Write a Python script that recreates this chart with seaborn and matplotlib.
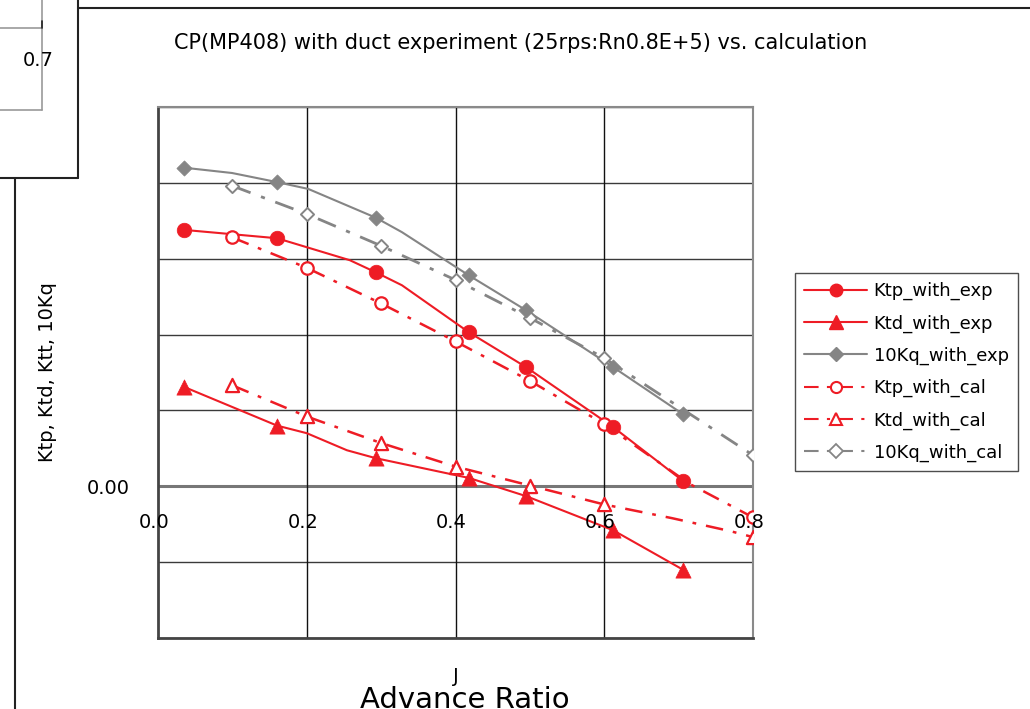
import matplotlib
matplotlib.use("Agg")
import matplotlib.pyplot as plt
import seaborn as sns
from matplotlib.lines import Line2D
import matplotlib.transforms as mtransforms

# ---------------- data ----------------
J_exp = [0.035, 0.160, 0.293, 0.418, 0.495, 0.612, 0.706]
Ktp_exp = [0.338, 0.327, 0.282, 0.203, 0.157, 0.078, 0.007]
Ktd_exp = [0.131, 0.080, 0.037, 0.011, -0.013, -0.058, -0.110]
Kq10_exp = [0.420, 0.401, 0.354, 0.278, 0.232, 0.157, 0.095]

J_cal = [0.1, 0.2, 0.3, 0.4, 0.5, 0.6, 0.8]
Ktp_cal = [0.328, 0.288, 0.241, 0.191, 0.139, 0.082, -0.041]
Ktd_cal = [0.133, 0.092, 0.057, 0.026, 0.001, -0.024, -0.067]
Kq10_cal = [0.396, 0.359, 0.317, 0.272, 0.222, 0.169, 0.041]

# curve vertices of the drawn lines (markers + intermediate bends)
Kq10_exp_line_J = [0.035, 0.0995, 0.160, 0.202, 0.293, 0.328, 0.418, 0.495, 0.612, 0.706]
Kq10_exp_line = [0.420, 0.413, 0.401, 0.392, 0.354, 0.335, 0.278, 0.232, 0.157, 0.095]
Ktp_exp_line_J = [0.035, 0.160, 0.258, 0.293, 0.328, 0.402, 0.418, 0.495, 0.612, 0.706]
Ktp_exp_line = [0.338, 0.327, 0.298, 0.282, 0.265, 0.214, 0.203, 0.157, 0.078, 0.007]
Ktd_exp_line_J = [0.035, 0.160, 0.200, 0.254, 0.293, 0.370, 0.418, 0.495, 0.612, 0.706]
Ktd_exp_line = [0.131, 0.080, 0.070, 0.0475, 0.037, 0.021, 0.011, -0.013, -0.058, -0.110]
Ktp_cal_line_J = [0.1, 0.2, 0.3, 0.4, 0.5, 0.6, 0.715, 0.8]
Ktp_cal_line = [0.328, 0.288, 0.241, 0.191, 0.139, 0.082, 0.003, -0.041]
Ktd_cal_line_J = [0.1, 0.2, 0.3, 0.4, 0.5, 0.6, 0.691, 0.769, 0.8]
Ktd_cal_line = [0.133, 0.092, 0.057, 0.026, 0.001, -0.024, -0.042, -0.059, -0.067]
Kq10_cal_line_J = J_cal
Kq10_cal_line = Kq10_cal

x_ticks = [0.0, 0.2, 0.4, 0.6, 0.8]
x_tick_labels = ["0.0", "0.2", "0.4", "0.6", "0.8"]
y_ticks = [-0.2, -0.1, 0.0, 0.1, 0.2, 0.3, 0.4, 0.5]
y_tick_labels = ["", "", "0.00", "", "", "", "", ""]

series_labels = ["Ktp_with_exp", "Ktd_with_exp", "10Kq_with_exp",
                 "Ktp_with_cal", "Ktd_with_cal", "10Kq_with_cal"]
title_text = "CP(MP408) with duct experiment (25rps:Rn0.8E+5) vs. calculation"

# ---------------- style ----------------
sns.set_style("white")
plt.rcParams["font.family"] = ["DejaVu Sans"]
plt.rcParams["text.color"] = "black"
plt.rcParams["axes.labelcolor"] = "black"
plt.rcParams["xtick.color"] = "black"
plt.rcParams["ytick.color"] = "black"

RED = "#EE1C25"
GRAY = "#858585"
DASHDOT = (7, 4, 1.5, 4)

W, H = 1030, 709
fig = plt.figure(figsize=(W / 100, H / 100), dpi=100)
L, R, T, B = 158, 753, 107, 638
ax = fig.add_axes([L / W, 1 - B / H, (R - L) / W, (B - T) / H])

ax.set_xlim(0, 0.8)
ax.set_ylim(-0.2, 0.5)

# grid
for yv in y_ticks:
    if yv == 0.0:
        ax.axhline(yv, color="#777777", lw=2.2, zorder=1)
    else:
        ax.axhline(yv, color="#3a3a3a", lw=1.0, zorder=1)
for xv in x_ticks[1:-1]:
    ax.axvline(xv, color="#111111", lw=1.0, zorder=1)

for side, col, lw in [("left", "#444444", 2.0), ("bottom", "#444444", 2.0),
                      ("top", "#8a8a8a", 1.5), ("right", "#8a8a8a", 1.5)]:
    ax.spines[side].set_visible(True)
    ax.spines[side].set_color(col)
    ax.spines[side].set_linewidth(lw)

ax.set_yticks(y_ticks)
ax.set_yticklabels(y_tick_labels, fontsize=14)
ax.tick_params(axis="y", direction="in", length=6, width=1.2, color="#333333", pad=20,
               labelcolor="black")
ax.set_xticks(x_ticks)
ax.set_xticklabels([])
ax.tick_params(axis="x", length=0)

# x tick labels sitting below the zero line
off = mtransforms.offset_copy(ax.transData, fig=fig, x=-4, y=-27, units="dots")
for xv, lab in zip(x_ticks, x_tick_labels):
    ax.text(xv, 0.0, lab, transform=off, ha="center", va="top", fontsize=14,
            color="black", zorder=6)

# ---------------- series ----------------
def draw_line(xs, ys, color, lw, dashed):
    sns.lineplot(x=xs, y=ys, sort=False, estimator=None, color=color, lw=lw, ax=ax,
                 legend=False, zorder=3)
    ln = ax.lines[-1]
    if dashed:
        ln.set_dashes(DASHDOT)

draw_line(Kq10_cal_line_J, Kq10_cal_line, GRAY, 2.0, True)
draw_line(Ktp_cal_line_J, Ktp_cal_line, RED, 1.8, True)
draw_line(Ktd_cal_line_J, Ktd_cal_line, RED, 1.8, True)
draw_line(Kq10_exp_line_J, Kq10_exp_line, GRAY, 1.5, False)
draw_line(Ktp_exp_line_J, Ktp_exp_line, RED, 1.5, False)
draw_line(Ktd_exp_line_J, Ktd_exp_line, RED, 1.5, False)

sns.scatterplot(x=J_cal, y=Kq10_cal, marker="D", s=45, facecolor="white",
                edgecolor=GRAY, linewidth=1.4, ax=ax, zorder=4, legend=False)
sns.scatterplot(x=J_cal, y=Ktp_cal, marker="o", s=80, facecolor="white",
                edgecolor=RED, linewidth=1.6, ax=ax, zorder=4, legend=False)
sns.scatterplot(x=J_cal, y=Ktd_cal, marker="^", s=90, facecolor="white",
                edgecolor=RED, linewidth=1.6, ax=ax, zorder=4, legend=False)
sns.scatterplot(x=J_exp, y=Kq10_exp, marker="D", s=60, color=GRAY,
                edgecolor=GRAY, linewidth=0.5, ax=ax, zorder=5, legend=False)
sns.scatterplot(x=J_exp, y=Ktp_exp, marker="o", s=110, color=RED,
                edgecolor=RED, linewidth=0.5, ax=ax, zorder=5, legend=False)
sns.scatterplot(x=J_exp, y=Ktd_exp, marker="^", s=120, color=RED,
                edgecolor=RED, linewidth=0.5, ax=ax, zorder=5, legend=False)

# ---------------- legend ----------------
handles = [
    Line2D([], [], color=RED, lw=1.5, marker="o", ms=9, mfc=RED, mec=RED),
    Line2D([], [], color=RED, lw=1.5, marker="^", ms=10, mfc=RED, mec=RED),
    Line2D([], [], color=GRAY, lw=1.5, marker="D", ms=7, mfc=GRAY, mec=GRAY),
    Line2D([], [], color=RED, lw=1.5, dashes=DASHDOT, marker="o", ms=8, mfc="white", mec=RED, mew=1.5),
    Line2D([], [], color=RED, lw=1.5, dashes=DASHDOT, marker="^", ms=9, mfc="white", mec=RED, mew=1.5),
    Line2D([], [], color=GRAY, lw=1.5, dashes=DASHDOT, marker="D", ms=7, mfc="white", mec=GRAY, mew=1.3),
]
leg = fig.legend(handles, series_labels, loc="upper left",
                 bbox_to_anchor=(795 / W, 1 - 273 / H), borderaxespad=0,
                 fontsize=13, frameon=True, fancybox=False, handlelength=3.5,
                 handletextpad=0.35, labelspacing=0.78, borderpad=0.5, numpoints=1)
leg.get_frame().set_edgecolor("#222222")
leg.get_frame().set_linewidth(1.0)
for t in leg.get_texts():
    t.set_color("black")

# ---------------- texts ----------------
fig.text(521 / W, 1 - 43 / H, title_text, ha="center", va="center", fontsize=15)
fig.text(48 / W, 1 - 372 / H, "Ktp, Ktd, Ktt, 10Kq", rotation=90, ha="center",
         va="center", fontsize=14)
fig.text(456 / W, 1 - 677 / H, "J", ha="center", va="center", fontsize=14)
fig.text(465 / W, 1 - 686 / H, "Advance Ratio", ha="center", va="top", fontsize=21)

# ---------------- surrounding frame fragments ----------------
def seg(x0, y0, x1, y1, color="#222222", lw=1.5):
    fig.add_artist(Line2D([x0 / W, x1 / W], [1 - y0 / H, 1 - y1 / H],
                          transform=fig.transFigure, color=color, lw=lw))

seg(78, 8, 1030, 8)
seg(78, 0, 78, 178)
seg(0, 178, 78, 178)
seg(15, 178, 15, 709)
seg(42, 0, 42, 110, color="#999999", lw=1.2)
seg(0, 28, 42, 28, color="#999999", lw=1.2)
seg(0, 110, 42, 110, color="#999999", lw=1.2)
seg(42, 21, 42, 28, color="#222222", lw=1.2)
fig.text(38 / W, 1 - 61 / H, "0.7", ha="center", va="center", fontsize=14)

fig.savefig("out.png", dpi=100)
